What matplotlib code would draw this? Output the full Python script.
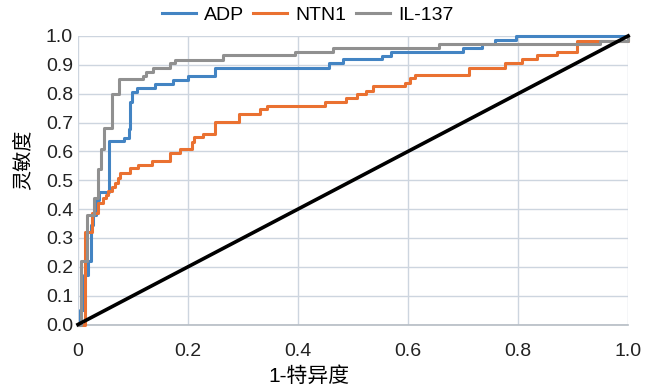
import matplotlib
matplotlib.use("Agg")
import matplotlib.pyplot as plt

plt.rcParams["font.family"] = ["Liberation Sans", "Noto Sans CJK SC", "DejaVu Sans"]

# ---- ROC step data ----
adp_fpr = [0, 0.004, 0.011, 0.019, 0.023, 0.028, 0.033, 0.039, 0.056, 0.084,
           0.092, 0.095, 0.098, 0.107, 0.14, 0.173, 0.2, 0.249, 0.457, 0.482,
           0.552, 0.569, 0.7, 0.734, 0.758, 0.797, 1.0]
adp_tpr = [0, 0.05, 0.17, 0.22, 0.345, 0.38, 0.43, 0.46, 0.635, 0.647,
           0.677, 0.77, 0.807, 0.82, 0.835, 0.849, 0.862, 0.89, 0.905, 0.919,
           0.93, 0.946, 0.958, 0.972, 0.986, 1.0, 1.0]

ntn1_fpr = [0, 0.013, 0.025, 0.037, 0.046, 0.051, 0.055, 0.061, 0.067, 0.073,
            0.076, 0.095, 0.11, 0.134, 0.167, 0.185, 0.207, 0.21, 0.228, 0.249,
            0.292, 0.331, 0.343, 0.449, 0.487, 0.507, 0.524, 0.537, 0.595, 0.604,
            0.613, 0.71, 0.776, 0.807, 0.834, 0.87, 0.907, 1.0]
ntn1_tpr = [0, 0.32, 0.385, 0.42, 0.437, 0.45, 0.464, 0.478, 0.49, 0.507,
            0.525, 0.541, 0.553, 0.565, 0.593, 0.61, 0.634, 0.649, 0.66, 0.703,
            0.73, 0.746, 0.757, 0.772, 0.784, 0.798, 0.81, 0.825, 0.838, 0.853,
            0.865, 0.89, 0.905, 0.919, 0.934, 0.946, 0.984, 1.0]

il137_fpr = [0, 0.006, 0.016, 0.03, 0.036, 0.042, 0.048, 0.062, 0.075, 0.118,
             0.124, 0.137, 0.167, 0.176, 0.263, 0.395, 0.463, 0.657, 0.949, 1.0]
il137_tpr = [0, 0.22, 0.38, 0.44, 0.54, 0.61, 0.68, 0.80, 0.85, 0.86,
             0.875, 0.89, 0.905, 0.917, 0.935, 0.946, 0.958, 0.972, 0.983, 1.0]

ref_line = [0, 1]

x_ticks = [0, 0.2, 0.4, 0.6, 0.8, 1.0]
x_tick_labels = ["0", "0.2", "0.4", "0.6", "0.8", "1.0"]
y_ticks = [0, 0.1, 0.2, 0.3, 0.4, 0.5, 0.6, 0.7, 0.8, 0.9, 1.0]
y_tick_labels = ["0.0", "0.1", "0.2", "0.3", "0.4", "0.5", "0.6", "0.7", "0.8", "0.9", "1.0"]

series = [
    ("ADP", adp_fpr, adp_tpr, "#4384c3"),
    ("NTN1", ntn1_fpr, ntn1_tpr, "#ea7131"),
    ("IL-137", il137_fpr, il137_tpr, "#909090"),
]

fig = plt.figure(figsize=(6.57, 3.89), dpi=100)
ax = fig.add_axes([0.1187, 0.1658, 0.8373, 0.7417])

for name, fx, ty, c in series:
    ax.plot(fx, ty, drawstyle="steps-post", color=c, lw=2.2, label=name,
            clip_on=False, zorder=3)

ax.plot(ref_line, ref_line, color="black", lw=2.6, clip_on=False, zorder=4)

ax.set_xlim(0, 1)
ax.set_ylim(0, 1)
ax.set_xticks(x_ticks)
ax.set_xticklabels(x_tick_labels)
ax.set_yticks(y_ticks)
ax.set_yticklabels(y_tick_labels)
ax.tick_params(length=0, labelsize=14, colors="#222222")
ax.tick_params(axis="x", pad=13)
ax.tick_params(axis="y", pad=3.5)
ax.grid(True, color="#cdd5df", lw=1.0)
ax.set_axisbelow(True)
for s in ["top", "right", "left"]:
    ax.spines[s].set_visible(False)
ax.spines["bottom"].set_color("#b5bcc4")
ax.spines["bottom"].set_linewidth(1.2)

ax.set_xlabel("1-特异度", fontsize=15)
ax.xaxis.set_label_coords(0.42, -0.145)
ax.set_ylabel("灵敏度", fontsize=14.5)
ax.yaxis.set_label_coords(-0.083, 0.57)

fig.legend(loc="center", bbox_to_anchor=(0.468, 0.962), ncol=3, frameon=False,
           fontsize=14, handlelength=1.75, columnspacing=0.5, handletextpad=0.4)

fig.savefig("out.png", dpi=100)
